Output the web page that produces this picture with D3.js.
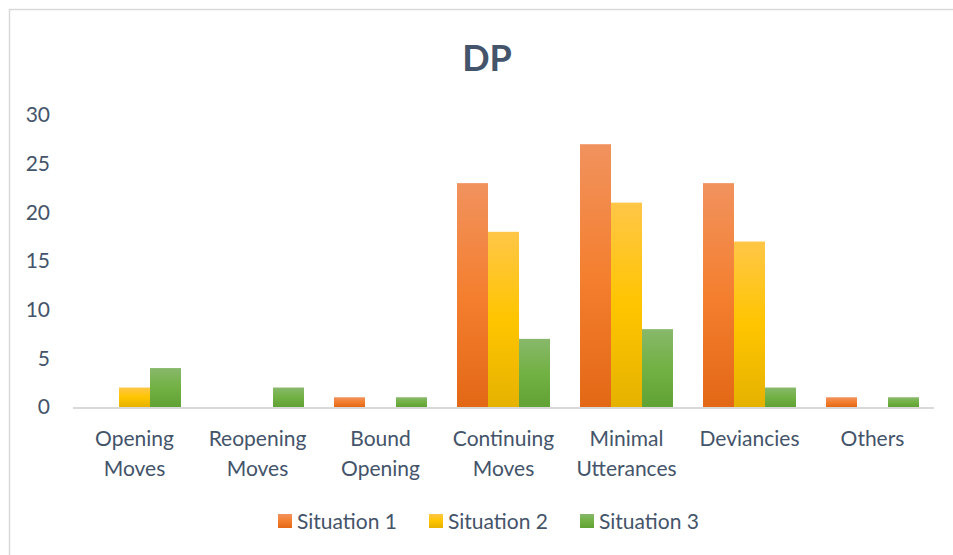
<!DOCTYPE html>
<html>
<head>
<meta charset="utf-8">
<script src="https://cdn.jsdelivr.net/npm/d3@7/dist/d3.min.js"></script>
<style>
  html, body { margin: 0; padding: 0; background: #fff; }
  svg { display: block; }
  text { font-family: Lato, "Open Sans", sans-serif; fill: #44546A; }
</style>
</head>
<body>
<svg id="chart" width="953" height="555"></svg>
<script>
const categories = [["Opening","Moves"],["Reopening","Moves"],["Bound","Opening"],["Continuing","Moves"],["Minimal","Utterances"],["Deviancies"],["Others"]];
const seriesNames = ["Situation 1","Situation 2","Situation 3"];
const situation1 = [0, 0, 1, 23, 27, 23, 1];
const situation2 = [2, 0, 0, 18, 21, 17, 0];
const situation3 = [4, 2, 1, 7, 8, 2, 1];
const yTicks = [0, 5, 10, 15, 20, 25, 30];
const title = "DP";

const colors = [
  {top:"#F1925E", mid:"#F47F2F", bot:"#E36816"},
  {top:"#FFC648", mid:"#FFC500", bot:"#E5B200"},
  {top:"#88B86B", mid:"#72B143", bot:"#61A235"}
];

const FONT = 'Lato, "Open Sans", sans-serif';
const svg = d3.select("#chart");
const W = 953, H = 555;
const margin = {left: 73, right: 19, top: 115, bottom: 148};
const x0 = d3.scaleBand().domain(d3.range(categories.length)).range([margin.left, W - margin.right]).paddingInner(0).paddingOuter(0);
const y = d3.scaleLinear().domain([0, 30]).range([H - margin.bottom, margin.top]);

// frame
svg.append("rect").attr("x", 9.5).attr("y", 9.5).attr("width", 1000).attr("height", 1000)
  .attr("fill", "#fff").attr("stroke", "#D9D9D9").attr("stroke-width", 1.5);

// gradients
const defs = svg.append("defs");
colors.forEach((c, i) => {
  const g = defs.append("linearGradient").attr("id", "g" + i).attr("x1", 0).attr("y1", 0).attr("x2", 0).attr("y2", 1);
  g.append("stop").attr("offset", "0%").attr("stop-color", c.top);
  g.append("stop").attr("offset", "50%").attr("stop-color", c.mid);
  g.append("stop").attr("offset", "100%").attr("stop-color", c.bot);
});

// title
svg.append("text").attr("x", 487).attr("y", 71).attr("text-anchor", "middle")
  .attr("font-size", 36).attr("font-weight", "bold").style("fill", "#44546A").text(title);

// y axis
const yAxis = d3.axisLeft(y).tickValues(yTicks).tickSize(0).tickPadding(0);
const ya = svg.append("g").attr("transform", "translate(50,0)").call(yAxis);
ya.select(".domain").remove();
ya.selectAll("text").attr("font-size", 21).style("fill", "#44546A").style("font-family", FONT);

// bars
const data = [situation1, situation2, situation3];
const groupW = x0.bandwidth() * 0.756;
const x1 = d3.scaleBand().domain(d3.range(3)).range([0, groupW]).padding(0);
const g = svg.append("g");
categories.forEach((cat, ci) => {
  const gx = x0(ci) + (x0.bandwidth() - groupW) / 2;
  data.forEach((s, si) => {
    const v = s[ci];
    if (v <= 0) return;
    g.append("rect")
      .attr("x", gx + x1(si))
      .attr("y", y(v))
      .attr("width", x1.bandwidth())
      .attr("height", y(0) - y(v))
      .attr("fill", `url(#g${si})`);
  });
});

// baseline
svg.append("line").attr("x1", margin.left).attr("x2", W - margin.right)
  .attr("y1", y(0) + 1).attr("y2", y(0) + 1).attr("stroke", "#D9D9D9").attr("stroke-width", 2);

// x labels
const xa = svg.append("g");
categories.forEach((cat, ci) => {
  const cx = x0(ci) + x0.bandwidth() / 2;
  const t = xa.append("text").attr("x", cx).attr("y", 446)
    .attr("text-anchor", "middle").attr("font-size", 21);
  cat.forEach((line, li) => {
    t.append("tspan").attr("x", cx).attr("dy", li === 0 ? 0 : 30).text(line);
  });
});

// legend
const legendX = [278, 429, 580];
seriesNames.forEach((n, i) => {
  svg.append("rect").attr("x", legendX[i]).attr("y", 514).attr("width", 14).attr("height", 14)
    .attr("fill", `url(#g${i})`);
  svg.append("text").attr("x", legendX[i] + 19).attr("y", 529).attr("font-size", 21).text(n);
});
</script>
</body>
</html>
